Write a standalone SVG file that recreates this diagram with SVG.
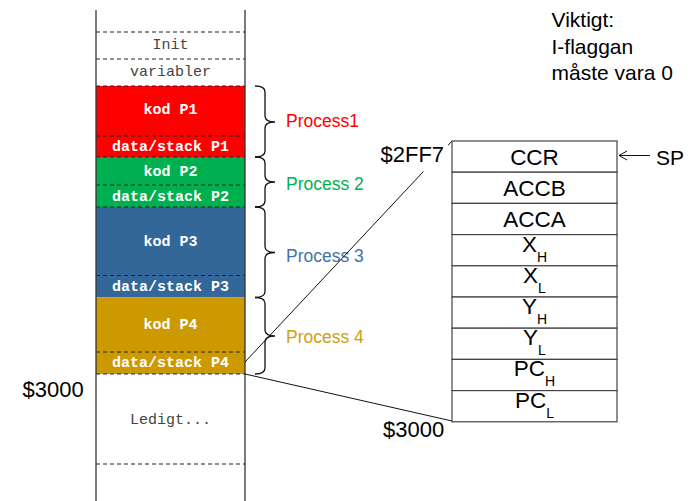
<svg xmlns="http://www.w3.org/2000/svg" width="693" height="501" viewBox="0 0 693 501">
<style>
.mono{font-family:"Liberation Mono","Courier New",monospace;font-size:15px;text-anchor:middle}
.mw{fill:#ffffff;font-weight:bold}
.mg{fill:#444444}
.sans{font-family:"Liberation Sans",Arial,sans-serif}
.dash{stroke:#222;stroke-width:1;stroke-dasharray:4,3;fill:none}
.brace{stroke:#111;stroke-width:1.3;fill:none}
.cell{fill:#fff;stroke:#444;stroke-width:1.2}
.ct{font-family:"Liberation Sans",Arial,sans-serif;font-size:22.5px;text-anchor:middle;fill:#000}
.sub{font-size:14px}
.proc{font-family:"Liberation Sans",Arial,sans-serif;font-size:17.5px}
.conn{stroke:#111;stroke-width:1;fill:none}
</style>
<rect width="693" height="501" fill="#fff"/>

<g id="memory">
  <g id="init"><line class="dash" x1="96" y1="32" x2="245" y2="32"/><text class="mono mg" x="170.5" y="49">Init</text></g>
  <g id="variabler"><line class="dash" x1="96" y1="59" x2="245" y2="59"/><text class="mono mg" x="170.5" y="76">variabler</text></g>
  <g id="p1mem">
    <rect x="96" y="86" width="149" height="71" fill="#ff0000"/>
    <line class="dash" x1="96" y1="86" x2="245" y2="86"/>
    <line class="dash" x1="96" y1="136" x2="245" y2="136"/>
    <text class="mono mw" x="170.5" y="114">kod P1</text>
    <text class="mono mw" x="170.5" y="151">data/stack P1</text>
  </g>
  <g id="p2mem">
    <rect x="96" y="157" width="149" height="50" fill="#00b050"/>
    <line class="dash" x1="96" y1="157" x2="245" y2="157"/>
    <line class="dash" x1="96" y1="185" x2="245" y2="185"/>
    <text class="mono mw" x="170.5" y="176">kod P2</text>
    <text class="mono mw" x="170.5" y="201">data/stack P2</text>
  </g>
  <g id="p3mem">
    <rect x="96" y="207" width="149" height="90.5" fill="#336699"/>
    <line class="dash" x1="96" y1="207" x2="245" y2="207"/>
    <line class="dash" x1="96" y1="275.5" x2="245" y2="275.5"/>
    <text class="mono mw" x="170.5" y="246">kod P3</text>
    <text class="mono mw" x="170.5" y="291">data/stack P3</text>
  </g>
  <g id="p4mem">
    <rect x="96" y="297.5" width="149" height="76.5" fill="#cc9900"/>
    <line class="dash" x1="96" y1="352" x2="245" y2="352"/>
    <text class="mono mw" x="170.5" y="329">kod P4</text>
    <text class="mono mw" x="170.5" y="367">data/stack P4</text>
  </g>
  <g id="ledigt">
    <line class="dash" x1="96" y1="374" x2="245" y2="374"/>
    <line class="dash" x1="96" y1="464" x2="245" y2="464"/>
    <text class="mono mg" x="170.5" y="424">Ledigt...</text>
  </g>
  <line x1="96" y1="10" x2="96" y2="501" stroke="#333" stroke-width="1.3"/>
  <line x1="245" y1="10" x2="245" y2="501" stroke="#333" stroke-width="1.3"/>
</g>

<g id="braces">
  <path class="brace" d="M255,86 Q265,86 265,92 L265,116 Q265,122 275,122 Q265,122 265,128 L265,151 Q265,157 255,157"/>
  <path class="brace" d="M255,157 Q265,157 265,163 L265,176 Q265,182 275,182 Q265,182 265,188 L265,201 Q265,207 255,207"/>
  <path class="brace" d="M255,207 Q265,207 265,213 L265,246.5 Q265,252.5 275,252.5 Q265,252.5 265,258.5 L265,291.5 Q265,297.5 255,297.5"/>
  <path class="brace" d="M255,297.5 Q265,297.5 265,303.5 L265,330 Q265,336 275,336 Q265,336 265,342 L265,368 Q265,374 255,374"/>
</g>

<g id="labels">
  <text class="proc" x="286" y="127" fill="#ff0000">Process1</text>
  <text class="proc" x="286" y="190" fill="#00b050">Process 2</text>
  <text class="proc" x="286" y="262" fill="#4472a8">Process 3</text>
  <text class="proc" x="286" y="343" fill="#d09f10">Process 4</text>
  <text class="sans" x="551.5" y="27" font-size="21">Viktigt:</text>
  <text class="sans" x="551.5" y="53.5" font-size="21">I-flaggan</text>
  <text class="sans" x="551.5" y="80" font-size="21">måste vara 0</text>
  <text class="sans" x="22.5" y="397" font-size="22">$3000</text>
  <text class="sans" x="383" y="437" font-size="22">$3000</text>
</g>

<g id="connectors">
  <line class="conn" x1="245" y1="362" x2="452" y2="141"/>
  <line class="conn" x1="245" y1="374" x2="452" y2="421"/>
  <line class="conn" x1="619" y1="155.5" x2="650" y2="155.5"/>
  <path class="conn" d="M627,151 L619,155.5 L627,160"/>
</g>

<g id="addr2ff7">
  <rect x="377" y="143.5" width="71" height="28" fill="#fff"/>
  <text class="sans" x="380.5" y="162" font-size="22">$2FF7</text>
</g>

<g id="stack">
  <g id="ccr"><rect class="cell" x="452" y="141" width="165" height="31.2"/><text class="ct" x="534.5" y="164.5">CCR</text></g>
  <g id="accb"><rect class="cell" x="452" y="172.2" width="165" height="31.2"/><text class="ct" x="534.5" y="195.7">ACCB</text></g>
  <g id="acca"><rect class="cell" x="452" y="203.4" width="165" height="31.2"/><text class="ct" x="534.5" y="226.9">ACCA</text></g>
  <g id="xh"><rect class="cell" x="452" y="234.6" width="165" height="31.2"/><text class="ct" x="534.5" y="251.6">X<tspan class="sub" dy="10">H</tspan></text></g>
  <g id="xl"><rect class="cell" x="452" y="265.8" width="165" height="31.2"/><text class="ct" x="534.5" y="282.8">X<tspan class="sub" dy="10">L</tspan></text></g>
  <g id="yh"><rect class="cell" x="452" y="297" width="165" height="31.2"/><text class="ct" x="534.5" y="314">Y<tspan class="sub" dy="10">H</tspan></text></g>
  <g id="yl"><rect class="cell" x="452" y="328.2" width="165" height="31.2"/><text class="ct" x="534.5" y="345.2">Y<tspan class="sub" dy="10">L</tspan></text></g>
  <g id="pch"><rect class="cell" x="452" y="359.4" width="165" height="31.2"/><text class="ct" x="534.5" y="376.4">PC<tspan class="sub" dy="10">H</tspan></text></g>
  <g id="pcl"><rect class="cell" x="452" y="390.6" width="165" height="31.2"/><text class="ct" x="534.5" y="407.6">PC<tspan class="sub" dy="10">L</tspan></text></g>
  <text class="sans" x="656" y="165" font-size="21">SP</text>
</g>
</svg>
